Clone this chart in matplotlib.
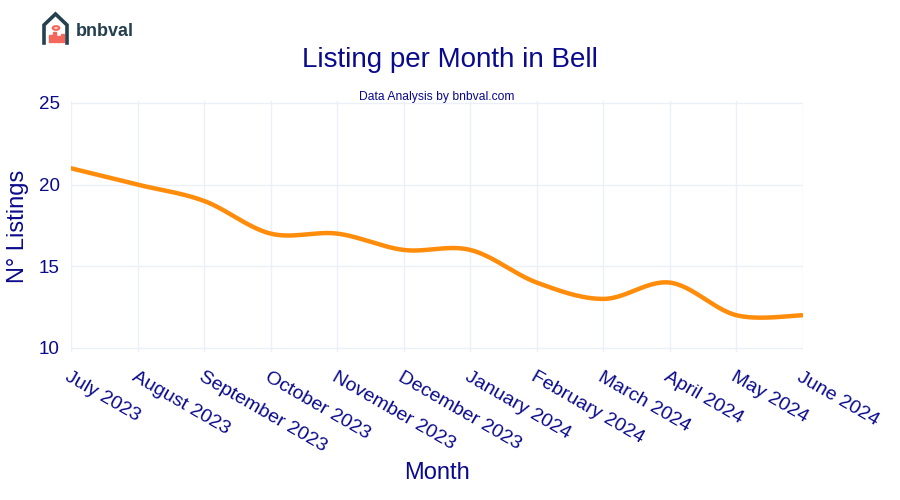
import numpy as np
import matplotlib.pyplot as plt
from matplotlib.patches import Rectangle, Circle
from matplotlib.lines import Line2D

months = ['July 2023', 'August 2023', 'September 2023', 'October 2023',
          'November 2023', 'December 2023', 'January 2024', 'February 2024',
          'March 2024', 'April 2024', 'May 2024', 'June 2024']
listings = [21, 20, 19, 17, 17, 16, 16, 14, 13, 14, 12, 12]

navy = '#0a0a8c'
orange = '#ff8c0a'
grid = '#ebf0f8'

plt.rcParams['font.family'] = ['Liberation Sans', 'DejaVu Sans']


def smooth(xs, ys, n=30, t=0.5):
    # cardinal spline through the points, only for drawing the curve
    xs = np.asarray(xs, float)
    ys = np.asarray(ys, float)
    px = np.concatenate([[xs[0]], xs, [xs[-1]]])
    py = np.concatenate([[ys[0]], ys, [ys[-1]]])
    ox, oy = [], []
    s = np.linspace(0, 1, n)
    h00 = 2 * s**3 - 3 * s**2 + 1
    h10 = s**3 - 2 * s**2 + s
    h01 = -2 * s**3 + 3 * s**2
    h11 = s**3 - s**2
    for i in range(1, len(px) - 2):
        mx0 = t * (px[i + 1] - px[i - 1])
        my0 = t * (py[i + 1] - py[i - 1])
        mx1 = t * (px[i + 2] - px[i])
        my1 = t * (py[i + 2] - py[i])
        ox.extend(h00 * px[i] + h10 * mx0 + h01 * px[i + 1] + h11 * mx1)
        oy.extend(h00 * py[i] + h10 * my0 + h01 * py[i + 1] + h11 * my1)
    return ox, oy


fig = plt.figure(figsize=(9, 5), dpi=100)
ax = fig.add_axes([71 / 900, 1 - 352 / 500, (803 - 71) / 900, (352 - 100.5) / 500])

x = np.arange(len(months))
sx, sy = smooth(x, listings)
ax.plot(sx, sy, color=orange, linewidth=3.2, solid_capstyle='round', zorder=3)

ax.set_xlim(0, len(months) - 1)
ax.set_ylim(9.75, 25.15)
ax.set_yticks([10, 15, 20, 25])
ax.set_xticks(x)
ax.set_xticklabels(months, rotation=-30, ha='left', va='top',
                   rotation_mode='anchor')
ax.grid(True, color=grid, linewidth=1)
ax.set_axisbelow(True)
for sp in ax.spines.values():
    sp.set_visible(False)
ax.tick_params(axis='both', length=0, colors=navy, labelsize=13.5)
ax.tick_params(axis='x', labelsize=14, pad=12)
ax.tick_params(axis='y', pad=8)

ax.set_ylabel('N° Listings', color=navy, fontsize=17, labelpad=7)
fig.text(437 / 900, 1 - 473 / 500, 'Month', color=navy, fontsize=17,
         ha='center', va='center')

fig.text(450 / 900, 1 - 60 / 500, 'Listing per Month in Bell', color=navy,
         fontsize=20, ha='center', va='center')
fig.text(437 / 900, 1 - 97 / 500, 'Data Analysis by bnbval.com', color=navy,
         fontsize=8.7, ha='center', va='center')

# logo
logo = '#25404f'
fig.add_artist(Line2D(np.array([44, 44, 55.5, 67, 67]) / 900,
                      1 - np.array([43, 25, 14, 25, 43]) / 500,
                      color=logo, linewidth=2.6, solid_joinstyle='miter'))
for bx, bh in [(49, 7), (53, 10), (57, 6), (61, 8)]:
    fig.add_artist(Rectangle((bx / 900, 1 - 42 / 500), 2.5 / 900, bh / 500,
                             color='#f4675a'))
fig.add_artist(Circle((56 / 900, 1 - 28 / 500), 3.2 / 900, fill=False,
                      edgecolor='#f4675a', linewidth=1.6))
fig.text(76 / 900, 1 - 31 / 500, 'bnbval', color=logo, fontsize=13,
         fontweight='bold', ha='left', va='center')

fig.savefig('out.png', dpi=100)
